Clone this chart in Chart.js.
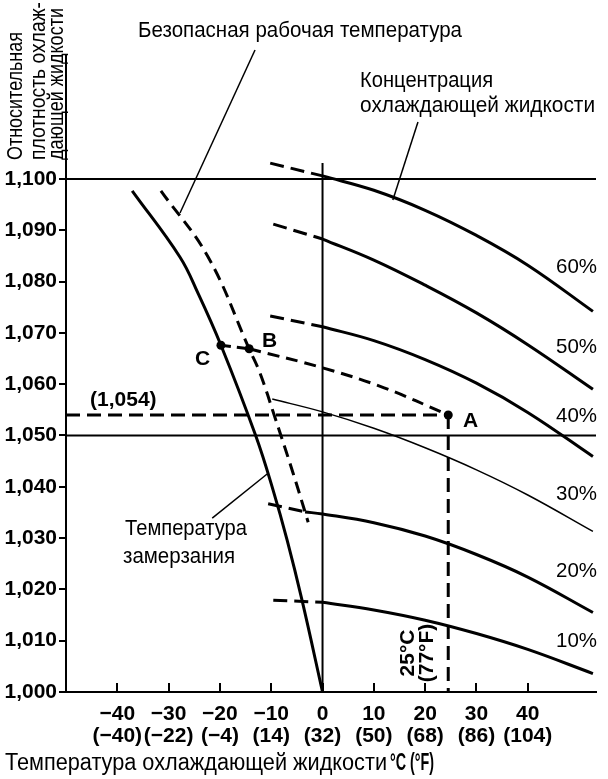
<!DOCTYPE html>
<html>
<head>
<meta charset="utf-8">
<script src="https://cdn.jsdelivr.net/npm/chart.js@4.4.1/dist/chart.umd.min.js"></script>
<style>
  html, body { margin: 0; padding: 0; background: #fff; }
  #wrap { width: 608px; height: 779px; }
</style>
</head>
<body>
<div id="wrap"><canvas id="chart" width="608" height="779"></canvas></div>
<script>
// tick values and labels
const xTicks = [-40, -30, -20, -10, 0, 10, 20, 30, 40];
const xTickC = ['−40', '−30', '−20', '−10', '0', '10', '20', '30', '40'];
const xTickF = ['(−40)', '(−22)', '(−4)', '(14)', '(32)', '(50)', '(68)', '(86)', '(104)'];
const yTicks = [1.000, 1.010, 1.020, 1.030, 1.040, 1.050, 1.060, 1.070, 1.080, 1.090, 1.100];

// concentration curves, [°C, relative density]
const c60Dash = [[-10.2, 1.1031], [0, 1.1006]];
const c60 = [[0, 1.1006], [10, 1.0978], [20, 1.0939], [30, 1.0890], [40, 1.0832], [52.7, 1.0742]];
const c50Dash = [[-9.6, 1.0912], [0, 1.0883]];
const c50 = [[0, 1.0883], [10, 1.0842], [20, 1.0793], [30, 1.0739], [40, 1.0677], [52.7, 1.0590]];
const c40Dash = [[-10.2, 1.0733], [0, 1.0712]];
const c40 = [[0, 1.0712], [10, 1.0685], [20, 1.0648], [30, 1.0602], [40, 1.0545], [52.7, 1.0459]];
const c30 = [[-9.8, 1.0571], [0, 1.0546], [10, 1.0514], [20, 1.0476], [30, 1.0433], [40, 1.0384], [52.7, 1.0313]];
const c20Dash = [[-10.6, 1.0367], [-3.4, 1.0351]];
const c20 = [[-3.4, 1.0351], [0, 1.0347], [10, 1.0330], [20, 1.0304], [30, 1.0268], [40, 1.0224], [52.7, 1.0155]];
const c10Dash = [[-9.6, 1.0179], [0, 1.0175]];
const c10 = [[0, 1.0175], [10, 1.0160], [20, 1.0140], [30, 1.0114], [40, 1.0083], [52.7, 1.0036]];

// freezing point and safe working temperature
const freezing = [[-37.1, 1.0977], [-27.8, 1.0848], [-24.3, 1.0778], [-19.8, 1.0676], [-13.0, 1.0499],
  [-9.65, 1.0394], [-6.9, 1.0296], [-4.0, 1.0179], [0, 1.0000]];
const safeTemp = [[-31.5, 1.0977], [-22.3, 1.0848], [-14.3, 1.0669], [-12.2, 1.0622],
  [-9.3, 1.0536], [-5.75, 1.0427], [-2.8, 1.0331]];

// example reading: A (25 °C, 1,054) -> B -> C
const pathCB = [[-19.8, 1.0676], [-14.3, 1.0669]];
const pathBA = [[-14.3, 1.0669], [0, 1.0632], [12.0, 1.0593], [24.5, 1.054]];
const markPts = [[24.5, 1.054], [-14.3, 1.0669], [-19.8, 1.0676]];
const readH = [[-50, 1.054], [24.5, 1.054]];
const readV = [[24.5, 1.054], [24.5, 1.000]];

// reference lines
const line1100 = [[-50, 1.1], [53.3, 1.1]];
const line1050 = [[-50, 1.05], [53.3, 1.05]];
const zeroLine = [[0, 1.0], [0, 1.1031]];

// leader lines
const leadSafe = [[-13.16, 1.12515], [-27.78, 1.09337]];
const leadConc = [[18.6, 1.1111], [13.7, 1.0959]];
const leadFreeze = [[-21.5, 1.0339], [-10.8, 1.0425]];

const FONT = "'Liberation Sans', Arial, sans-serif";

const pts = a => a.map(([x, y]) => ({ x, y }));
function line(data, width, dash, smooth) {
  return {
    data: pts(data), showLine: true, borderColor: '#000', borderWidth: width,
    borderDash: dash || [], pointRadius: 0, fill: false, clip: false,
    tension: smooth ? 0.4 : 0, borderCapStyle: 'butt'
  };
}
const D = [14, 7];

const datasets = [
  line(line1100, 2), line(line1050, 2), line(zeroLine, 2),
  line(c60Dash, 3, D), line(c60, 3, null, true),
  line(c50Dash, 3, D), line(c50, 3, null, true),
  line(c40Dash, 3, D), line(c40, 3, null, true),
  line(c30, 1.5, null, true),
  line(c20Dash, 3, D), line(c20, 3, null, true),
  line(c10Dash, 3, D), line(c10, 3, null, true),
  line(freezing, 3, null, true), line(safeTemp, 3, [12, 7], true),
  line(pathCB, 3, [10, 6]), line(pathBA, 3, [12, 7], true),
  line(readH, 3, D), line(readV, 3, D),
  line(leadSafe, 1.5), line(leadConc, 1.5), line(leadFreeze, 1.5),
  { data: pts(markPts), showLine: false, pointRadius: 4.5, pointBackgroundColor: '#000', pointBorderWidth: 0, clip: false }
];

// text labels placed in data units
const texts = [
  { t: 'Безопасная рабочая температура', x: -35.96, y: 1.12768, w: 324, size: 22 },
  { t: 'Концентрация', x: 7.31, y: 1.11793, w: 133, size: 22 },
  { t: 'охлаждающей жидкости', x: 7.31, y: 1.11306, w: 235, size: 22 },
  { t: 'Температура', x: -38.5, y: 1.0306, w: 122, size: 22 },
  { t: 'замерзания', x: -38.89, y: 1.02515, w: 112, size: 22 },
  { t: '(1,054)', x: -45.32, y: 1.05575, w: 68, size: 21, bold: true },
  { t: 'A', x: 27.39, y: 1.05166, size: 21, bold: true },
  { t: 'B', x: -11.79, y: 1.06725, size: 21, bold: true },
  { t: 'C', x: -24.85, y: 1.06374, size: 21, bold: true },
  { t: '60%', x: 45.52, y: 1.08168, w: 41, size: 21 },
  { t: '50%', x: 45.52, y: 1.06608, w: 41, size: 21 },
  { t: '40%', x: 45.52, y: 1.05263, w: 41, size: 21 },
  { t: '30%', x: 45.52, y: 1.03743, w: 41, size: 21 },
  { t: '20%', x: 45.52, y: 1.02242, w: 41, size: 21 },
  { t: '10%', x: 45.52, y: 1.00877, w: 41, size: 21 },
  { t: 'Температура охлаждающей жидкости', x: -61.89, y: 0.9848, w: 382, size: 23 },
  { t: '°C (°F)', x: 13.16, y: 0.9848, w: 44, size: 23, bold: true },
  // rotated
  { t: 'Относительная', x: -58.58, y: 1.1037, w: 128, size: 22, rot: true },
  { t: 'плотность охлаж-', x: -54.09, y: 1.1037, w: 158, size: 22, rot: true },
  { t: 'дающей жидкости', x: -50.59, y: 1.1037, w: 152, size: 22, rot: true },
  { t: '25°C', x: 17.84, y: 1.0076, w: 47, size: 21, bold: true, rot: true, center: true },
  { t: '(77°F)', x: 21.54, y: 1.0076, w: 60, size: 21, bold: true, rot: true, center: true }
];

const decor = {
  id: 'decor',
  afterDatasetsDraw(chart) {
    const { ctx, scales: { x, y } } = chart;
    ctx.save();
    // inward ticks on the temperature axis
    ctx.strokeStyle = '#000';
    ctx.lineWidth = 2;
    xTicks.forEach(v => {
      const px = Math.round(x.getPixelForValue(v));
      ctx.beginPath();
      ctx.moveTo(px, y.bottom);
      ctx.lineTo(px, y.bottom - 9);
      ctx.stroke();
    });
    ctx.fillStyle = '#000';
    ctx.textBaseline = 'alphabetic';
    texts.forEach(o => {
      ctx.font = (o.bold ? 'bold ' : '') + o.size + 'px ' + FONT;
      const px = x.getPixelForValue(o.x);
      const py = y.getPixelForValue(o.y);
      ctx.save();
      ctx.translate(px, py);
      if (o.rot) ctx.rotate(-Math.PI / 2);
      ctx.textAlign = o.center ? 'center' : 'left';
      if (o.w) ctx.fillText(o.t, 0, 0, o.w);
      else ctx.fillText(o.t, 0, 0);
      ctx.restore();
    });
    ctx.restore();
  }
};

new Chart(document.getElementById('chart'), {
  type: 'scatter',
  data: { datasets },
  options: {
    responsive: false,
    animation: false,
    devicePixelRatio: 1,
    layout: { padding: { top: 55, right: 12, left: 0, bottom: 0 } },
    plugins: { legend: { display: false }, tooltip: { enabled: false } },
    scales: {
      x: {
        type: 'linear', min: -50, max: 53.3,
        afterBuildTicks: s => { s.ticks = xTicks.map(v => ({ value: v })); },
        afterFit: s => { s.height = 87; },
        grid: { drawOnChartArea: false, drawTicks: false },
        border: { display: true, color: '#000', width: 2 },
        ticks: {
          autoSkip: false, maxRotation: 0, padding: 11, color: '#000',
          font: { family: FONT, size: 21, weight: 'bold', lineHeight: 1.05 },
          callback: (v, i) => [xTickC[i], xTickF[i]]
        }
      },
      y: {
        type: 'linear', min: 1.0, max: 1.12417,
        afterBuildTicks: s => { s.ticks = yTicks.map(v => ({ value: v })); },
        afterFit: s => { s.width = 66; },
        grid: { drawOnChartArea: false, drawTicks: true, tickLength: 7, color: '#000', lineWidth: 2 },
        border: { display: true, color: '#000', width: 2 },
        ticks: {
          color: '#000', padding: 2,
          font: { family: FONT, size: 21, weight: 'bold' },
          callback: v => v.toFixed(3).replace('.', ',')
        }
      }
    }
  },
  plugins: [decor]
});
</script>
</body>
</html>
